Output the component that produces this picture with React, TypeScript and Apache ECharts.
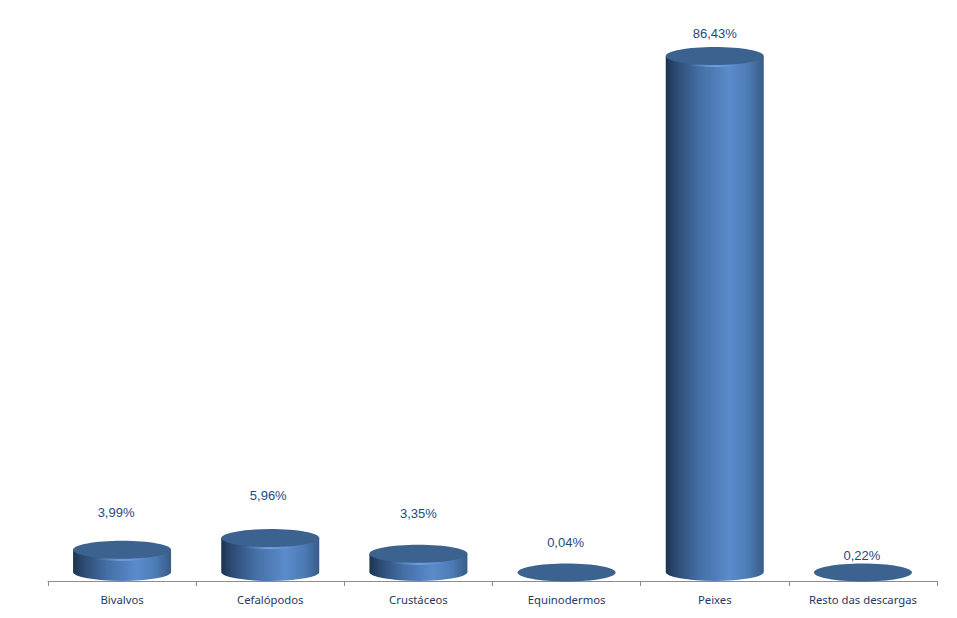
import React, { useEffect, useRef } from "react";
import * as echarts from "echarts";

const categories = ["Bivalvos", "Cefalópodos", "Crustáceos", "Equinodermos", "Peixes", "Resto das descargas"];
const values = [3.99, 5.96, 3.35, 0.04, 86.43, 0.22];
const valueLabels = ["3,99%", "5,96%", "3,35%", "0,04%", "86,43%", "0,22%"];
// manual label placement of the original: gap above the cylinder top, horizontal shift
const labelGaps = [28, 33.5, 31, 21, 14, 8];
const labelShifts = [-6, -2, 0, -1, 0, -1];

const BAR_W = 98;
const RY = 9;
const TOP_DROP = 1.7;

const renderItem = (params: any, api: any) => {
  const i = api.value(0);
  const top = api.coord([i, api.value(1)]);
  const base = api.coord([i, 0]);
  const cx = base[0];
  const baseY = base[1] - RY;
  const topY = Math.min(top[1] - RY + TOP_DROP, baseY + 0.5);
  const l = cx - BAR_W / 2;
  const r = cx + BAR_W / 2;
  const h = baseY - topY;
  const side = new echarts.graphic.LinearGradient(0, 0, 1, 0, [
    { offset: 0, color: "#1d3350" },
    { offset: 0.1, color: "#2b4a72" },
    { offset: 0.35, color: "#456fa6" },
    { offset: 0.65, color: "#5a8bcb" },
    { offset: 0.85, color: "#4c7ab4" },
    { offset: 1, color: "#385c87" },
  ]);
  const children: any[] = [];
  if (h > 3) {
    children.push({
      type: "path",
      shape: {
        pathData: `M${l} ${topY}L${l} ${baseY}A${BAR_W / 2} ${RY} 0 0 0 ${r} ${baseY}L${r} ${topY}Z`,
      },
      style: { fill: side },
    });
    children.push({
      type: "ellipse",
      shape: { cx, cy: topY + 2, rx: BAR_W / 2, ry: RY },
      style: {
        fill: new echarts.graphic.RadialGradient(0.5, 1, 0.3, [
          { offset: 0, color: "rgba(125,175,240,0.85)" },
          { offset: 1, color: "rgba(100,150,220,0)" },
        ]),
      },
    });
  }
  children.push({
    type: "ellipse",
    shape: { cx, cy: topY, rx: BAR_W / 2, ry: RY },
    style: { fill: "#3c628f" },
  });
  children.push({
    type: "text",
    style: {
      x: cx + labelShifts[i],
      y: topY - RY - labelGaps[i],
      text: valueLabels[i],
      fill: "#1f497d",
      font: "13px 'Liberation Sans', Arial, sans-serif",
      align: "center",
      verticalAlign: "middle",
    },
  });
  return { type: "group", children };
};

export default function App() {
  const ref = useRef<HTMLDivElement>(null);
  useEffect(() => {
    const chart = echarts.init(ref.current!, undefined, { renderer: "svg" });
    chart.setOption({
      animation: false,
      backgroundColor: "#ffffff",
      grid: { left: 48, right: 20, top: 0, bottom: 37 },
      xAxis: {
        type: "category",
        data: categories,
        axisLine: { lineStyle: { color: "#8c8c8c", width: 1 } },
        axisTick: { show: true, length: 5, lineStyle: { color: "#8c8c8c" } },
        axisLabel: {
          color: "#1f3864",
          fontSize: 11.3,
          fontFamily: "'Noto Sans', sans-serif",
          margin: 13,
          interval: 0,
        },
      },
      yAxis: { type: "value", min: 0, max: 97, show: false, splitLine: { show: false } },
      series: [
        {
          type: "custom",
          renderItem,
          clip: false,
          encode: { x: 0, y: 1 },
          data: values.map((v, i) => [i, v]),
        },
      ],
    });
    return () => chart.dispose();
  }, []);
  return <div ref={ref} style={{ position: "absolute", left: 0, top: 0, width: 957, height: 618 }} />;
}
